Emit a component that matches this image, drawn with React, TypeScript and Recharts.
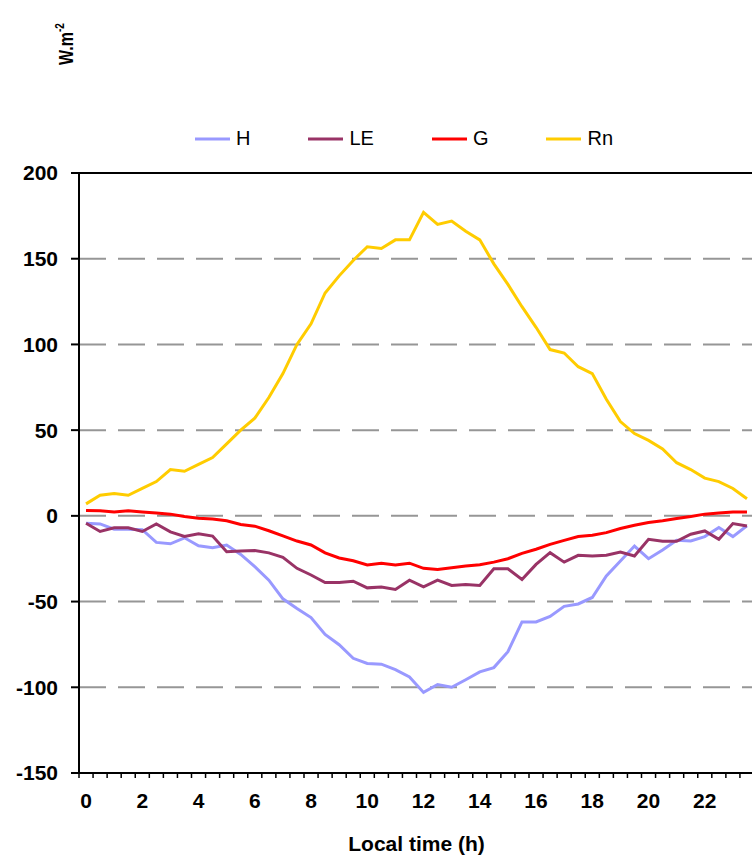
import React from 'react';
import { LineChart, Line, XAxis, YAxis, CartesianGrid, Legend, ReferenceLine, Label } from 'recharts';

const FONT = '"Liberation Sans", Arial, sans-serif';

// local time, half-hourly
const hours = [
    0, 0.5, 1, 1.5, 2, 2.5, 3, 3.5, 4, 4.5, 5, 5.5, 6, 6.5, 7, 7.5, 8, 8.5, 9, 9.5, 10, 10.5, 11, 11.5,
    12, 12.5, 13, 13.5, 14, 14.5, 15, 15.5, 16, 16.5, 17, 17.5, 18, 18.5, 19, 19.5, 20, 20.5, 21, 21.5,
    22, 22.5, 23, 23.5,
];

const hValues = [
    -4.3, -4.7, -7.8, -7.8, -8.1, -15.5, -16.3, -12.8, -17.4, -18.6, -17, -22.5, -29.6, -37.5, -48.4, -54,
    -59.3, -69.2, -75.2, -83.1, -86.1, -86.5, -89.7, -94, -103, -98.4, -100, -95.6, -91, -88.5, -79.2, -61.9,
    -61.9, -58.7, -52.8, -51.4, -47.6, -35, -26.3, -17.6, -25, -19.9, -14.3, -14.6, -12.1, -6.8, -12.1, -5.8,
];

const leValues = [
    -4.3, -9.1, -7, -7, -9.1, -4.7, -9.3, -12, -10.5, -11.8, -20.9, -20.5, -20.2, -21.6, -24.2, -30.6,
    -34.5, -38.9, -38.9, -38.1, -42, -41.5, -42.9, -37.5, -41.4, -37.5, -40.6, -40, -40.6, -30.9, -30.9, -37.1,
    -28.3, -21.5, -27, -23, -23.4, -23, -21.1, -23.4, -13.7, -14.8, -14.8, -10.7, -8.8, -13.7, -4.5, -5.9,
];

const gValues = [
    3.1, 3, 2.3, 3, 2.3, 1.6, 1, -0.4, -1.4, -1.9, -2.9, -5, -6, -8.7, -11.7, -14.7,
    -17, -21.6, -24.6, -26.2, -28.6, -27.6, -28.6, -27.6, -30.6, -31.3, -30.3, -29.3, -28.5, -27, -25, -21.9,
    -19.5, -16.6, -14.3, -12.1, -11.3, -9.8, -7.4, -5.5, -3.9, -2.9, -1.6, -0.4, 1, 1.6, 2.3, 2.3,
];

const rnValues = [
    7, 12, 13, 12, 16, 20, 27, 26, 30, 34, 42, 50, 57, 69, 83, 100,
    112, 130, 140, 149, 157, 156, 161, 161, 177, 170, 172, 166, 161, 147, 135, 122,
    110, 97, 95, 87, 83, 68, 55, 48, 44, 39, 31, 27, 22, 20, 16, 10,
];

const yTicks = [-150, -100, -50, 0, 50, 100, 150, 200];
const gridValues = [-100, -50, 0, 50, 100, 150];
const xLabels = [0, 2, 4, 6, 8, 10, 12, 14, 16, 18, 20, 22];

const series = [
    { key: 'H', name: 'H', color: '#9999FF' },
    { key: 'LE', name: 'LE', color: '#993366' },
    { key: 'G', name: 'G', color: '#FF0000' },
    { key: 'Rn', name: 'Rn', color: '#FFCC00' },
];

const data = hours.map((t, i) => ({
    t,
    H: hValues[i],
    LE: leValues[i],
    G: gValues[i],
    Rn: rnValues[i],
}));

// category boundaries (tick marks sit between the half-hour categories, like Excel)
const boundaries = [...hours.map((h) => h - 0.25), 23.75];
const xTicks = [...boundaries, ...xLabels].sort((a, b) => a - b);

const XTick = (props: any) => {
    const { x, y, payload } = props;
    const v = payload.value;
    if (xLabels.includes(v)) {
        return (
            <text x={x} y={y + 35} textAnchor="middle" fontFamily={FONT} fontSize={21} fontWeight="bold" fill="#000">
                {v}
            </text>
        );
    }
    return <line x1={x} y1={y} x2={x} y2={y + 5} stroke="#000" strokeWidth={1.5} />;
};

const renderLegend = () => (
    <div style={{ display: 'flex', alignItems: 'center', fontFamily: FONT, fontSize: 20, color: '#000' }}>
        {series.map((s) => (
            <div key={s.key} style={{ display: 'flex', alignItems: 'center', marginRight: 58 }}>
                <svg width={35} height={4}>
                    <line x1={0} y1={2} x2={35} y2={2} stroke={s.color} strokeWidth={3} />
                </svg>
                <span style={{ marginLeft: 6 }}>{s.name}</span>
            </div>
        ))}
    </div>
);

const App: React.FC = () => {
    return (
        <div style={{ position: 'absolute', left: 0, top: 0, width: 752, height: 857, overflow: 'hidden', background: '#fff' }}>
            <LineChart width={760} height={857} data={data} margin={{ top: 173, right: 6, bottom: 0, left: 0 }}>
                <CartesianGrid
                    vertical={false}
                    horizontalValues={gridValues}
                    stroke="#969696"
                    strokeWidth={2}
                    strokeDasharray="27 12"
                />
                <XAxis
                    dataKey="t"
                    type="number"
                    domain={[-0.25, 23.75]}
                    ticks={xTicks}
                    interval={0}
                    tickLine={false}
                    tickSize={0}
                    tickMargin={0}
                    tick={<XTick />}
                    axisLine={{ stroke: '#000', strokeWidth: 2 }}
                    height={84}
                >
                    <Label
                        value="Local time (h)"
                        position="insideBottom"
                        offset={6}
                        style={{ fontFamily: FONT, fontSize: 21, fontWeight: 'bold', fill: '#000' }}
                    />
                </XAxis>
                <YAxis
                    domain={[-150, 200]}
                    ticks={yTicks}
                    interval={0}
                    width={79}
                    tickSize={8}
                    tickMargin={13}
                    tickLine={{ stroke: '#000', strokeWidth: 2 }}
                    axisLine={{ stroke: '#000', strokeWidth: 2 }}
                    tick={{ fontFamily: FONT, fontSize: 21, fontWeight: 'bold', fill: '#000' }}
                    label={{
                        content: () => (
                            <text
                                transform="translate(73,65) rotate(-90) scale(1,1.3)"
                                fontFamily={FONT}
                                fontSize={16}
                                fontWeight="bold"
                                fill="#000"
                            >
                                W.m
                                <tspan dy={-7} fontSize={10}>
                                    -2
                                </tspan>
                            </text>
                        ),
                    }}
                />
                <ReferenceLine y={200} stroke="#000" strokeWidth={2} ifOverflow="extendDomain" />
                <Legend
                    content={renderLegend}
                    layout="horizontal"
                    verticalAlign="middle"
                    align="center"
                    wrapperStyle={{ top: 127, left: 195, width: 'auto' }}
                />
                {series.map((s) => (
                    <Line
                        key={s.key}
                        type="linear"
                        dataKey={s.key}
                        name={s.name}
                        stroke={s.color}
                        strokeWidth={3}
                        dot={false}
                        isAnimationActive={false}
                    />
                ))}
            </LineChart>
        </div>
    );
};

export default App;
